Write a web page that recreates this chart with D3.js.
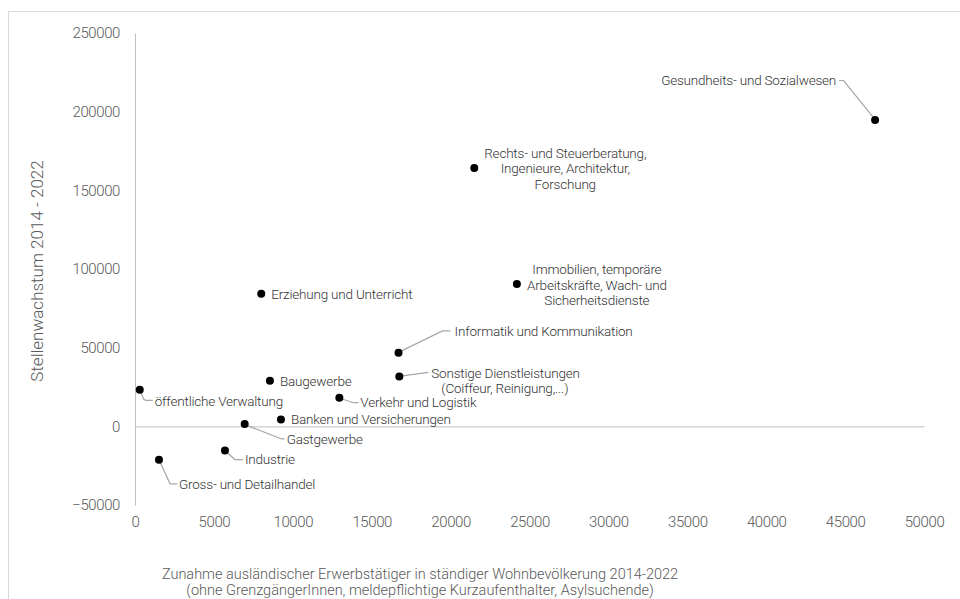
<!DOCTYPE html>
<html><head><meta charset="utf-8">
<script src="https://cdn.jsdelivr.net/npm/d3@7"></script>
<style>
html,body{margin:0;padding:0;background:#fff;}
svg{display:block;font-family:Roboto,"Noto Sans",sans-serif;}
</style></head>
<body>
<script>
const categories = [
  "Gesundheits- und Sozialwesen",
  "Rechts- und Steuerberatung, Ingenieure, Architektur, Forschung",
  "Immobilien, temporäre Arbeitskräfte, Wach- und Sicherheitsdienste",
  "Erziehung und Unterricht",
  "Informatik und Kommunikation",
  "Sonstige Dienstleistungen (Coiffeur, Reinigung,...)",
  "Baugewerbe",
  "öffentliche Verwaltung",
  "Verkehr und Logistik",
  "Banken und Versicherungen",
  "Gastgewerbe",
  "Industrie",
  "Gross- und Detailhandel"
];
const labelLines = [
  ["Gesundheits- und Sozialwesen"],
  ["Rechts- und Steuerberatung,","Ingenieure, Architektur,","Forschung"],
  ["Immobilien, temporäre","Arbeitskräfte, Wach- und","Sicherheitsdienste"],
  ["Erziehung und Unterricht"],
  ["Informatik und Kommunikation"],
  ["Sonstige Dienstleistungen","(Coiffeur, Reinigung,...)"],
  ["Baugewerbe"],
  ["öffentliche Verwaltung"],
  ["Verkehr und Logistik"],
  ["Banken und Versicherungen"],
  ["Gastgewerbe"],
  ["Industrie"],
  ["Gross- und Detailhandel"]
];
const foreignWorkers = [46900, 21500, 24200, 8000, 16700, 16750, 8550, 300, 12950, 9250, 6950, 5700, 1520];
const jobGrowth = [194700, 164200, 90500, 84200, 46700, 31700, 28900, 23200, 18200, 4300, 1500, -15400, -21300];
const xTicks = [0,5000,10000,15000,20000,25000,30000,35000,40000,45000,50000];
const yTicks = [-50000,0,50000,100000,150000,200000,250000];
const xTitle = ["Zunahme ausländischer Erwerbstätiger in ständiger Wohnbevölkerung 2014-2022","(ohne GrenzgängerInnen, meldepflichtige Kurzaufenthalter, Asylsuchende)"];
const yTitle = "Stellenwachstum 2014 - 2022";

// label layout (pixel offsets from point)
const labelLayout = [
  {dx:-39, dy:-40, anchor:"end", leader:[[-2,-3],[-31.5,-39.5],[-36,-39.5]]},
  {dx:91, dy:0.5, anchor:"middle"},
  {dx:80, dy:1, anchor:"middle"},
  {dx:10, dy:0, anchor:"start"},
  {dx:56, dy:-22, anchor:"start", leader:[[3,-2],[44,-22],[52,-22]]},
  {dx:32, dy:4, anchor:"start", leader:[[3,-0.5],[29,-4]], lineDx:[0,10]},
  {dx:10, dy:0, anchor:"start"},
  {dx:15, dy:11, anchor:"start", leader:[[1,2],[4,9.5],[6,10.5],[13,10.5]]},
  {dx:21, dy:5, anchor:"start", leader:[[2,1],[14,5],[19,5]]},
  {dx:10, dy:0, anchor:"start"},
  {dx:42, dy:15, anchor:"start", leader:[[1,1],[37,15],[40,15]]},
  {dx:20, dy:9, anchor:"start", leader:[[1,1],[10,9],[18,9]]},
  {dx:20, dy:24, anchor:"start", leader:[[1,2],[11,24],[18,24]]}
];

const W = 960, H = 599;
const svg = d3.select("body").append("svg").attr("width",W).attr("height",H);
svg.append("rect").attr("x",8.5).attr("y",11.5).attr("width",W).attr("height",H)
  .attr("fill","#fff").attr("stroke","#d9d9d9").attr("stroke-width",1);

const x = d3.scaleLinear().domain([0,50000]).range([135,924]);
const y = d3.scaleLinear().domain([-50000,250000]).range([505,33]);

const tickColor = "#595959";
// y axis
const yAxis = d3.axisLeft(y).tickValues(yTicks).tickSize(0).tickPadding(15).tickFormat(d3.format("d"));
const gy = svg.append("g").attr("transform","translate(135,0)").call(yAxis);
gy.select(".domain").attr("stroke","#bfbfbf");
gy.selectAll("text").attr("fill",tickColor).attr("font-size",15).attr("font-weight",300)
  .attr("letter-spacing","-0.4px").attr("font-family","Roboto");
// x axis (at 0)
const xAxis = d3.axisBottom(x).tickValues(xTicks).tickSize(0).tickPadding(0).tickFormat(d3.format("d"));
const gx = svg.append("g").attr("transform","translate(0,"+y(0)+")").call(xAxis);
gx.select(".domain").attr("stroke","#bfbfbf");
gx.selectAll("text").attr("fill",tickColor).attr("font-size",15).attr("font-weight",300)
  .attr("letter-spacing","-0.4px").attr("font-family","Roboto")
  .attr("y", 522 - y(0)).attr("dy","0.35em");

// axis titles
svg.append("text").attr("text-anchor","middle")
  .attr("fill",tickColor).attr("font-size",14.5).attr("font-weight",300)
  .selectAll("tspan").data(xTitle).join("tspan")
  .attr("x",420).attr("y",(d,i)=>574+i*16).attr("dy","0.35em").text(d=>d);
svg.append("text").attr("transform","translate(37,271) rotate(-90)").attr("text-anchor","middle")
  .attr("dy","0.35em").attr("fill",tickColor).attr("font-size",17).attr("font-weight",300)
  .text(yTitle);

const pts = categories.map((c,i)=>({c, lines:labelLines[i], lay:labelLayout[i], px:x(foreignWorkers[i]), py:y(jobGrowth[i])}));

// leaders
const line = d3.line();
svg.append("g").selectAll("path").data(pts.filter(p=>p.lay.leader)).join("path")
  .attr("d",p=>line(p.lay.leader.map(q=>[p.px+q[0],p.py+q[1]])))
  .attr("fill","none").attr("stroke","#a6a6a6").attr("stroke-width",1.2);

// dots
svg.append("g").selectAll("circle").data(pts).join("circle")
  .attr("cx",p=>p.px).attr("cy",p=>p.py).attr("r",4).attr("fill","#000");

// labels
const lab = svg.append("g").selectAll("text").data(pts).join("text")
  .attr("fill","#333").attr("font-size",13.5).attr("font-weight",300)
  .attr("letter-spacing","-0.2px")
  .attr("text-anchor",p=>p.lay.anchor);
lab.each(function(p){
  const n = p.lines.length, lh = 15.3;
  const t = d3.select(this);
  p.lines.forEach((l,i)=>{
    const ldx = p.lay.lineDx ? p.lay.lineDx[i] : 0;
    t.append("tspan")
      .attr("x", p.px + p.lay.dx + ldx)
      .attr("y", p.py + p.lay.dy + (i - (n-1)/2)*lh)
      .attr("dy","0.35em").text(l);
  });
});
</script>
</body></html>
